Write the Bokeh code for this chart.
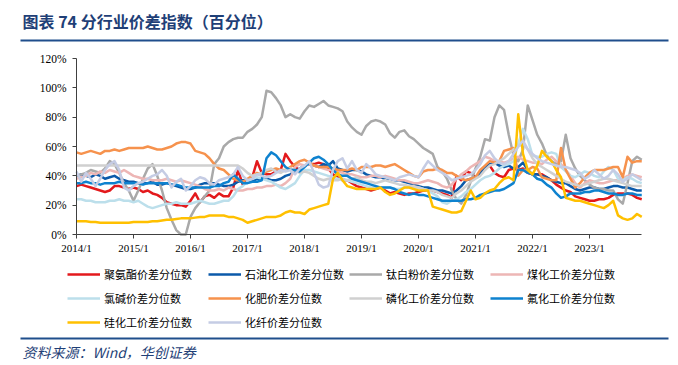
from bokeh.plotting import figure
from bokeh.models import Range1d, FixedTicker, PrintfTickFormatter, Legend, LegendItem, Label
from bokeh.embed import file_html
from bokeh.resources import INLINE

title_text = "图表 74 分行业价差指数（百分位）"
source_text = "资料来源：Wind，华创证券"
x_tick_labels = ["2014/1", "2015/1", "2016/1", "2017/1", "2018/1",
                 "2019/1", "2020/1", "2021/1", "2022/1", "2023/1"]
y_ticks = [0, 20, 40, 60, 80, 100, 120]

series_names = ["聚氨酯价差分位数", "石油化工价差分位数", "钛白粉价差分位数", "煤化工价差分位数",
                "氯碱价差分位数", "化肥价差分位数", "磷化工价差分位数", "氟化工价差分位数",
                "硅化工价差分位数", "化纤价差分位数"]

# monthly values, 2014/1 .. 2023/12 (percent)
pu = [33, 34, 33, 32, 31, 30, 29, 30, 33, 33,
      32, 31, 32, 31, 29, 30, 28, 27, 25, 22,
      21, 20, 20, 19, 23, 28, 22, 26, 27, 25,
      28, 26, 26, 32, 44, 34, 37, 39, 50, 42,
      41, 41, 43, 44, 55, 50, 46, 44, 47, 48,
      48, 49, 48, 45, 41, 39, 37, 37, 35, 33,
      32, 31, 30, 31, 32, 30, 28, 29, 28, 27,
      28, 28, 29, 30, 30, 30, 29, 28, 27, 25,
      40, 37, 43, 42, 39, 42, 46, 47, 42, 40,
      39, 44, 45, 44, 45, 42, 41, 41, 41, 39,
      37, 34, 32, 30, 29, 26, 25, 24, 23, 23,
      24, 24, 25, 27, 28, 28, 28, 27, 25, 24]
petro = [40, 41, 40, 39, 41, 40, 38, 39, 40, 38,
         37, 36, 36, 35, 35, 35, 36, 34, 34, 35,
         34, 33, 32, 31, 31, 32, 34, 35, 35, 35,
         34, 33, 33, 34, 36, 37, 37, 36, 38, 38,
         38, 37, 37, 38, 40, 41, 43, 45, 47, 48,
         47, 46, 48, 47, 50, 45, 44, 43, 44, 44,
         43, 41, 40, 39, 39, 38, 38, 37, 37, 36,
         35, 34, 33, 32, 32, 31, 30, 30, 29, 28,
         30, 33, 37, 38, 39, 42, 46, 48, 49, 47,
         46, 47, 45, 46, 49, 44, 41, 41, 40, 39,
         37, 36, 35, 35, 33, 31, 30, 31, 32, 32,
         31, 31, 32, 33, 33, 32, 32, 31, 30, 30]
tio2 = [40, 41, 42, 44, 43, 42, 45, 50, 48, 42,
        35, 30, 23, 30, 38, 45, 48, 40, 30, 18,
        10, 3, 0, 0, 12, 18, 22, 26, 30, 48,
        52, 60, 63, 65, 66, 66, 70, 72, 75, 80,
        98, 97, 93, 88, 80, 82, 80, 79, 84, 88,
        87, 89, 91, 88, 87, 86, 84, 77, 73, 70,
        68, 74, 77, 78, 77, 75, 69, 66, 70, 71,
        67, 65, 62, 59, 57, 55, 46, 43, 38, 30,
        24, 21, 27, 36, 45, 53, 65, 64, 80, 88,
        85, 68, 54, 50, 58, 88, 78, 68, 62, 54,
        50, 48, 50, 68, 52, 45, 40, 37, 34, 32,
        31, 31, 30, 30, 24, 21, 35, 50, 53, 51]
coal = [38, 39, 40, 42, 41, 43, 42, 44, 43, 42,
        44, 42, 40, 39, 38, 38, 37, 37, 37, 38,
        37, 36, 37, 36, 35, 34, 33, 31, 30, 30,
        31, 30, 32, 31, 30, 30, 31, 31, 32, 32,
        33, 33, 34, 33, 35, 38, 46, 48, 47, 48,
        47, 46, 45, 44, 44, 43, 42, 41, 41, 40,
        39, 39, 40, 40, 39, 40, 39, 38, 37, 37,
        36, 35, 35, 36, 37, 36, 35, 33, 32, 34,
        38, 41, 43, 46, 48, 50, 53, 52, 50, 50,
        49, 50, 52, 53, 51, 50, 49, 49, 48, 51,
        53, 50, 48, 44, 40, 35, 32, 35, 37, 36,
        35, 35, 36, 37, 37, 38, 40, 41, 40, 39]
chlor = [24, 24, 23, 23, 22, 22, 22, 23, 23, 24,
         23, 23, 22, 23, 21, 19, 18, 19, 20, 21,
         21, 22, 21, 21, 21, 22, 23, 22, 21, 21,
         22, 23, 23, 26, 31, 33, 36, 38, 39, 38,
         37, 36, 34, 32, 31, 33, 35, 40, 44, 44,
         43, 42, 41, 40, 39, 38, 37, 37, 36, 35,
         34, 33, 32, 32, 32, 32, 32, 31, 31, 32,
         32, 32, 32, 31, 30, 28, 26, 22, 21, 23,
         24, 26, 29, 31, 34, 37, 39, 40, 42, 45,
         47, 48, 50, 62, 72, 65, 54, 53, 53, 55,
         56, 55, 46, 43, 40, 39, 41, 43, 42, 40,
         39, 43, 46, 44, 38, 37, 39, 38, 36, 35]
fert = [56, 55, 56, 57, 56, 55, 57, 57, 58, 57,
        58, 59, 59, 59, 59, 60, 59, 58, 58, 59,
        60, 62, 63, 63, 62, 57, 56, 55, 52, 48,
        45, 44, 41, 38, 37, 36, 38, 40, 42, 41,
        43, 44, 45, 44, 44, 46, 48, 50, 51, 49,
        47, 46, 46, 46, 45, 44, 44, 44, 45, 44,
        46, 46, 46, 47, 47, 46, 47, 48, 46, 44,
        42, 40, 39, 43, 44, 44, 45, 44, 42, 42,
        40, 38, 37, 38, 39, 44, 47, 50, 49, 50,
        57, 58, 59, 40, 44, 44, 46, 45, 39, 38,
        37, 37, 59, 44, 38, 32, 35, 39, 42, 44,
        44, 44, 45, 46, 46, 39, 53, 49, 50, 50]
phos = [47, 47, 47, 47, 47, 47, 47, 47, 47, 47,
        47, 47, 47, 47, 47, 47, 47, 47, 47, 47,
        47, 47, 47, 47, 47, 47, 47, 47, 47, 47,
        47, 47, 47, 47, 47, 45, 42, 40, 41, 42,
        44, 45, 43, 42, 44, 45, 44, 42, 43, 42,
        40, 38, 37, 38, 37, 37, 38, 37, 38, 39,
        37, 36, 36, 35, 36, 37, 36, 35, 34, 34,
        33, 33, 32, 31, 30, 30, 29, 27, 26, 25,
        28, 30, 33, 36, 38, 40, 44, 47, 48, 50,
        52, 55, 58, 60, 62, 58, 52, 48, 46, 44,
        42, 40, 38, 36, 35, 34, 33, 34, 35, 36,
        37, 38, 38, 37, 36, 35, 34, 33, 33, 33]
fluor = [35, 35, 36, 35, 35, 34, 35, 35, 35, 36,
         35, 35, 35, 35, 34, 35, 35, 35, 35, 35,
         34, 34, 33, 32, 32, 32, 32, 32, 32, 33,
         33, 35, 36, 41, 38, 35, 35, 36, 36, 37,
         52, 56, 54, 50, 46, 44, 44, 43, 46, 49,
         52, 53, 51, 48, 44, 41, 40, 40, 38, 37,
         36, 35, 34, 33, 32, 32, 32, 31, 29, 28,
         27, 28, 27, 27, 26, 25, 24, 23, 23, 23,
         23, 23, 24, 24, 25, 27, 28, 29, 30, 30,
         31, 33, 35, 44, 44, 42, 41, 38, 37, 34,
         32, 28, 25, 26, 28, 28, 28, 29, 29, 30,
         30, 29, 28, 28, 27, 27, 28, 28, 27, 27]
silicon = [9, 9, 9, 8.5, 8.5, 8, 8, 8, 8, 8,
           8, 8, 8.5, 8.5, 8.5, 8.5, 9, 9, 9.5, 10,
           10, 10.5, 11, 11, 11, 11.5, 12, 12, 13, 13,
           13, 13, 12, 12, 11, 10, 8, 9, 10, 11,
           12, 12, 12, 13, 15, 16, 15, 15, 14, 17,
           18, 19, 20, 21, 38, 42, 37, 33, 32, 31,
           31, 31, 31, 31, 32, 29, 27, 28, 30, 32,
           32, 31, 30, 30, 30, 19, 18, 17, 16, 15,
           15, 16, 23, 30, 24, 25, 28, 30, 31, 35,
           38, 39, 37, 82, 55, 44, 41, 47, 57, 53,
           50, 44, 39, 25, 24, 23, 23, 22, 21, 20,
           19, 18, 20, 23, 13, 11, 10, 11, 14, 12]
fiber = [43, 36, 42, 38, 33, 38, 44, 48, 50, 44,
         32, 30, 33, 35, 36, 38, 40, 41, 44, 40,
         32, 36, 38, 30, 33, 37, 39, 38, 35, 34,
         37, 38, 39, 41, 46, 40, 37, 38, 41, 40,
         39, 40, 42, 44, 43, 44, 41, 45, 47, 50,
         42, 34, 32, 33, 44, 50, 52, 45, 50, 44,
         42, 48, 45, 41, 40, 39, 38, 37, 39, 40,
         41, 40, 39, 45, 50, 47, 44, 42, 40, 37,
         38, 39, 40, 41, 44, 48, 54, 57, 52, 49,
         48, 50, 55, 60, 64, 58, 55, 52, 50, 49,
         48, 47, 46, 46, 45, 44, 42, 38, 40, 44,
         41, 38, 40, 44, 41, 36, 38, 41, 39, 37]

series_values = [pu, petro, tio2, coal, chlor, fert, phos, fluor, silicon, fiber]
series_colors = ["#E3191C", "#0B5AAA", "#A9A9A9", "#EDB6B5", "#BCDFEB",
                 "#F6924D", "#D0D0D0", "#0E82CF", "#FFC000", "#C5CCE4"]

months = list(range(len(pu)))
x_ticks = [12 * i for i in range(len(x_tick_labels))]

# ---------- layout constants (pixels) ----------
W, H = 676, 363
X0, PX_PER_MONTH = 76, 4.75          # page x of 2014/1, px per month
Y0, PX_PER_UNIT = 234, 176 / 120     # page y of 0%, px per percent point


def px2x(px):
    return (px - X0) / PX_PER_MONTH


def px2y(py):
    return (Y0 - py) / PX_PER_UNIT


NAVY = "#1F3F77"
RULE = "#1F4E8C"
CJK = "Noto Sans CJK SC"
SERIF = "Liberation Serif"

p = figure(width=W, height=H,
           x_range=Range1d(px2x(0), px2x(W)), y_range=Range1d(px2y(H), px2y(0)),
           toolbar_location=None, output_backend="svg",
           min_border_left=0, min_border_right=0, min_border_top=0, min_border_bottom=0,
           outline_line_color=None)
p.xgrid.visible = False
p.ygrid.visible = False

items = []
for name, vals, col in zip(series_names, series_values, series_colors):
    r = p.line(months, vals, line_color=col, line_width=2.5, line_join="round")
    items.append(LegendItem(label=name, renderers=[r]))

# axes drawn at the data origin
p.xaxis.fixed_location = 0
p.xaxis.bounds = (0, 119)
p.yaxis.fixed_location = 0
p.yaxis.bounds = (0, 120)
p.xaxis.ticker = FixedTicker(ticks=x_ticks)
p.xaxis.major_label_overrides = {t: lab for t, lab in zip(x_ticks, x_tick_labels)}
p.yaxis.ticker = FixedTicker(ticks=y_ticks)
p.yaxis.formatter = PrintfTickFormatter(format="%d%%")
for ax in (p.xaxis, p.yaxis):
    ax.axis_line_color = "#404040"
    ax.axis_line_width = 1
    ax.major_tick_line_color = "#404040"
    ax.major_tick_in = 0
    ax.major_tick_out = 4
    ax.minor_tick_line_color = None
    ax.major_label_text_font = SERIF
    ax.major_label_text_color = "#000000"
p.xaxis.major_label_text_font_size = "11px"
p.yaxis.major_label_text_font_size = "11.5px"
p.xaxis.major_label_standoff = 3
p.yaxis.major_label_standoff = 6

legend = Legend(items=items, location=(67, H - 332), orientation="horizontal", ncols=4,
                glyph_width=33, glyph_height=20, label_standoff=4, label_width=100,
                label_height=20, spacing=4, padding=0, margin=0,
                border_line_alpha=0, background_fill_alpha=0,
                label_text_font=CJK, label_text_font_size="11px", label_text_color="#000000")
p.add_layout(legend)

# title, rules and source
p.add_layout(Label(x=px2x(22), y=px2y(20), text=title_text, text_font=CJK,
                   text_font_size="16px", text_font_style="bold", text_color=NAVY,
                   text_baseline="middle"))
p.segment(x0=[px2x(20), px2x(20)], y0=[px2y(40), px2y(338)],
          x1=[px2x(668), px2x(668)], y1=[px2y(40), px2y(338)],
          line_color=RULE, line_width=2)
p.add_layout(Label(x=px2x(22), y=px2y(351), text=source_text, text_font=CJK,
                   text_font_size="14px", text_font_style="italic", text_color=NAVY,
                   text_baseline="middle"))

open("out.html", "w").write(file_html(p, INLINE))
